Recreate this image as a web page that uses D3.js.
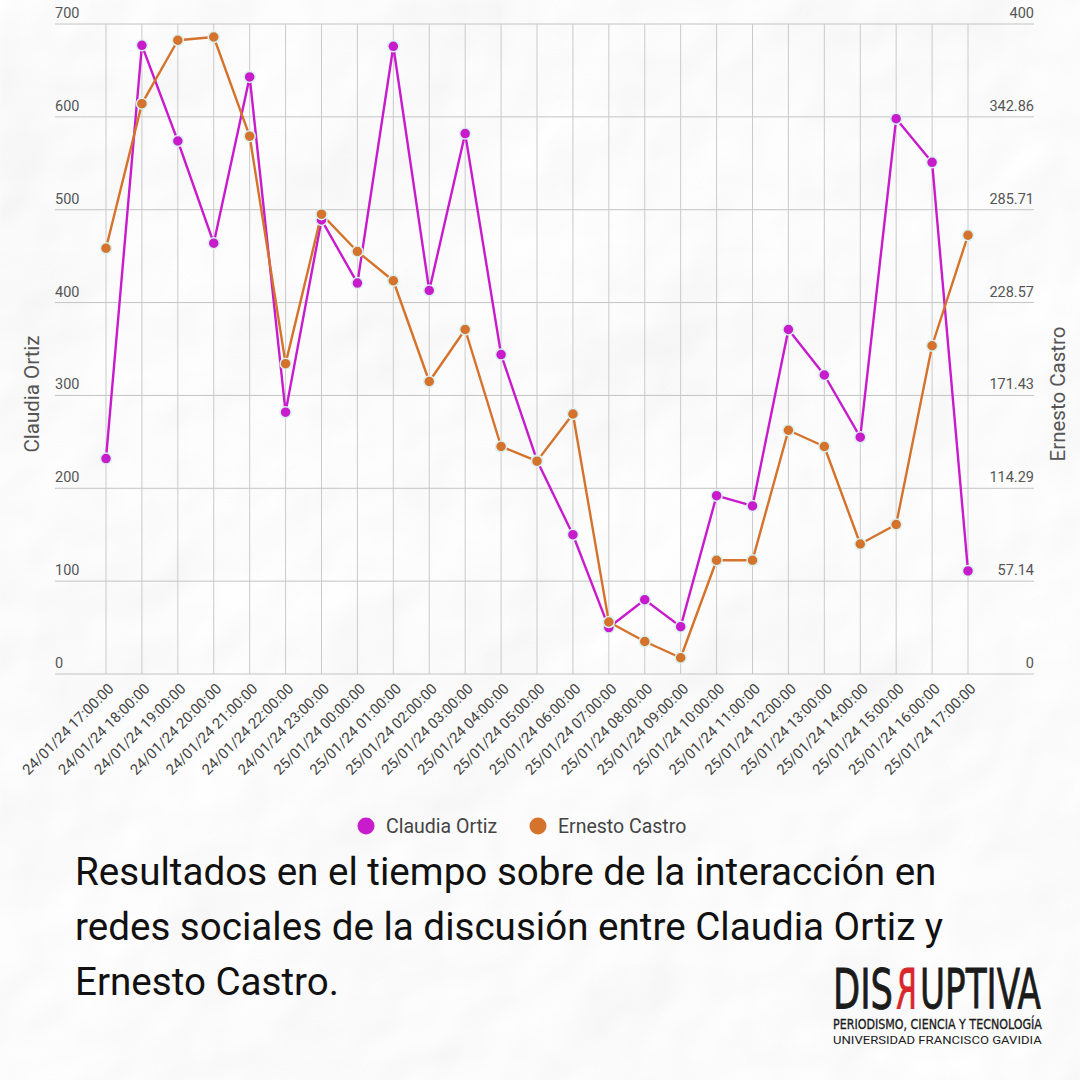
<!DOCTYPE html>
<html lang="es">
<head>
    <meta charset="UTF-8">
    <title>Claudia Ortiz vs Ernesto Castro</title>
    <style>
        html, body { margin: 0; padding: 0; background: #f1f1f1; }
        svg { display: block; font-family: Roboto, "Noto Sans", sans-serif; }
    </style>
    <script src="https://cdn.jsdelivr.net/npm/d3@7/dist/d3.min.js"></script>
</head>
<body>
    <script>
        // data
        var horas = ["24/01/24 17:00:00", "24/01/24 18:00:00", "24/01/24 19:00:00", "24/01/24 20:00:00",
            "24/01/24 21:00:00", "24/01/24 22:00:00", "24/01/24 23:00:00", "25/01/24 00:00:00",
            "25/01/24 01:00:00", "25/01/24 02:00:00", "25/01/24 03:00:00", "25/01/24 04:00:00",
            "25/01/24 05:00:00", "25/01/24 06:00:00", "25/01/24 07:00:00", "25/01/24 08:00:00",
            "25/01/24 09:00:00", "25/01/24 10:00:00", "25/01/24 11:00:00", "25/01/24 12:00:00",
            "25/01/24 13:00:00", "25/01/24 14:00:00", "25/01/24 15:00:00", "25/01/24 16:00:00",
            "25/01/24 17:00:00"];
        var claudia = [232, 677, 574, 464, 643, 282, 489, 421, 676, 413, 582, 344,
            230, 150, 50, 80, 51, 192, 181, 371, 322, 255, 598, 551, 111];
        var ernesto = [262, 351, 390, 392, 331, 191, 283, 260, 242, 180, 212, 140,
            131, 160, 32, 20, 10, 70, 70, 150, 140, 80, 92, 202, 270];
        var ticksIzq = [0, 100, 200, 300, 400, 500, 600, 700];
        var ticksDer = ["0", "57.14", "114.29", "171.43", "228.57", "285.71", "342.86", "400"];
        var series = ["Claudia Ortiz", "Ernesto Castro"];
        var colores = ["#c81bcc", "#d5722b"];
        var titulo = ["Resultados en el tiempo sobre de la interacción en",
            "redes sociales de la discusión entre Claudia Ortiz y",
            "Ernesto Castro."];

        var W = 1080, H = 1080;
        var svg = d3.select("body").append("svg").attr("width", W).attr("height", H);

        // crumpled paper background
        var defs = svg.append("defs");
        var f = defs.append("filter").attr("id", "papel").attr("x", 0).attr("y", 0)
            .attr("width", "100%").attr("height", "100%");
        f.append("feTurbulence").attr("type", "fractalNoise").attr("baseFrequency", "0.004")
            .attr("numOctaves", 4).attr("seed", 11).attr("result", "ruido");
        var luz = f.append("feDiffuseLighting").attr("in", "ruido").attr("lighting-color", "#ffffff")
            .attr("surfaceScale", 9).attr("diffuseConstant", 1.1).attr("result", "luz");
        luz.append("feDistantLight").attr("azimuth", 225).attr("elevation", 60);
        f.append("feColorMatrix").attr("in", "luz").attr("type", "matrix")
            .attr("values", "0.55 0 0 0 0.44  0.55 0 0 0 0.44  0.55 0 0 0 0.44  0 0 0 1 0");
        svg.append("rect").attr("width", W).attr("height", H).attr("fill", "#f3f3f3")
            .attr("filter", "url(#papel)");

        var x = d3.scalePoint().domain(horas).range([106, 968]);
        var yL = d3.scaleLinear().domain([0, 700]).range([674, 24]);
        var yR = d3.scaleLinear().domain([0, 400]).range([674, 24]);

        var g = svg.append("g");

        // grid
        g.selectAll(".hgrid").data(ticksIzq).enter().append("line")
            .attr("x1", 55).attr("x2", 1034)
            .attr("y1", d => yL(d)).attr("y2", d => yL(d))
            .attr("stroke", "#c4c4c4").attr("stroke-width", 1);
        g.selectAll(".vgrid").data(horas).enter().append("line")
            .attr("x1", d => x(d)).attr("x2", d => x(d))
            .attr("y1", 24).attr("y2", 674)
            .attr("stroke", "#cacaca").attr("stroke-width", 1);

        // axis labels
        g.selectAll(".lblIzq").data(ticksIzq).enter().append("text")
            .attr("x", 55).attr("y", d => yL(d) - 6)
            .attr("font-size", 14.5).attr("fill", "#555")
            .text(d => d);
        g.selectAll(".lblDer").data(ticksDer).enter().append("text")
            .attr("x", 1034).attr("y", d => yR(+d) - 6)
            .attr("text-anchor", "end")
            .attr("font-size", 14.5).attr("fill", "#555")
            .text(d => d);

        g.selectAll(".lblX").data(horas).enter().append("text")
            .attr("transform", d => "translate(" + (x(d) + 5) + ",686) rotate(-45)")
            .attr("text-anchor", "end")
            .attr("dy", "0.35em")
            .attr("font-size", 14.7).attr("fill", "#444")
            .text(d => d);

        g.append("text").attr("transform", "translate(39,394) rotate(-90)")
            .attr("text-anchor", "middle").attr("font-size", 20.5).attr("fill", "#555")
            .text(series[0]);
        g.append("text").attr("transform", "translate(1065,394) rotate(-90)")
            .attr("text-anchor", "middle").attr("font-size", 20.5).attr("fill", "#555")
            .text(series[1]);

        // lines and points
        var datos = [
            { nombre: series[0], valores: claudia, y: yL, color: colores[0] },
            { nombre: series[1], valores: ernesto, y: yR, color: colores[1] }
        ];
        datos.forEach(function(s) {
            var linea = d3.line().x((v, i) => x(horas[i])).y(v => s.y(v));
            g.append("path").datum(s.valores)
                .attr("d", linea)
                .attr("fill", "none")
                .attr("stroke", s.color)
                .attr("stroke-width", 2.4)
                .attr("stroke-linejoin", "round");
        });
        datos.forEach(function(s) {
            g.selectAll(null).data(s.valores).enter().append("circle")
                .attr("cx", (v, i) => x(horas[i]))
                .attr("cy", v => s.y(v))
                .attr("r", 5.5)
                .attr("fill", s.color)
                .attr("stroke", "#d8f0ee")
                .attr("stroke-width", 1.5);
        });

        // legend
        var leyenda = svg.append("g");
        var posLeyenda = [366, 538];
        series.forEach(function(nombre, i) {
            leyenda.append("circle").attr("cx", posLeyenda[i]).attr("cy", 826).attr("r", 8.5)
                .attr("fill", colores[i]);
            leyenda.append("text").attr("x", posLeyenda[i] + 20).attr("y", 833)
                .attr("font-size", 19.5).attr("fill", "#444").text(nombre);
        });

        // title
        svg.append("g").selectAll("text").data(titulo).enter().append("text")
            .attr("x", 75).attr("y", (d, i) => 885 + i * 55)
            .attr("font-size", 38.6).attr("fill", "#111")
            .text(d => d);

        // logo: squeeze each piece horizontally to its width in the picture
        var condensada = "'DejaVu Sans Condensed', 'Liberation Sans Narrow', sans-serif";
        var logo = svg.append("g").attr("fill", "#1b1b1b");
        function pieza(txt, x0, y0, ancho, size, familia, espejo) {
            var t = logo.append("text").attr("font-family", familia).attr("font-size", size).text(txt);
            var w = t.node().getComputedTextLength();
            var sx = ancho / w;
            if (espejo) t.attr("transform", "translate(" + (x0 + ancho) + "," + y0 + ") scale(" + (-sx) + ",1)");
            else t.attr("transform", "translate(" + x0 + "," + y0 + ") scale(" + sx + ",1)");
            return t;
        }
        pieza("DIS", 833, 1008, 60, 56, condensada).attr("stroke", "#1b1b1b").attr("stroke-width", 0.8);
        pieza("R", 896, 1008, 21, 56, condensada, true).attr("fill", "#d9262c").attr("stroke", "#d9262c").attr("stroke-width", 0.8);
        pieza("UPTIVA", 920, 1008, 121, 56, condensada).attr("stroke", "#1b1b1b").attr("stroke-width", 0.8);
        pieza("PERIODISMO, CIENCIA Y TECNOLOGÍA", 833, 1029, 209, 14, condensada)
            .attr("stroke", "#1b1b1b").attr("stroke-width", 0.3);
        pieza("UNIVERSIDAD FRANCISCO GAVIDIA", 833, 1044, 209, 11.5, "Roboto, sans-serif");
    </script>
</body>
</html>
